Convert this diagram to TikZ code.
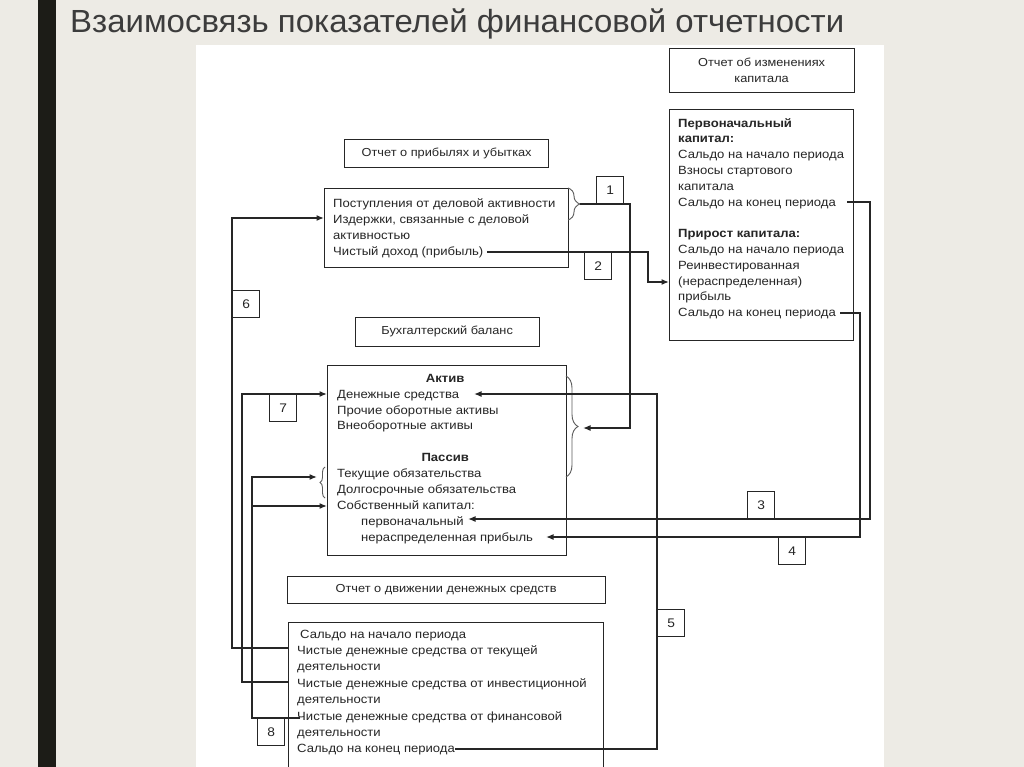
\documentclass[tikz,border=0pt]{standalone}
\usepackage{fontspec}
\usetikzlibrary{arrows.meta,positioning,decorations.pathreplacing}
\newfontfamily\diagfont[FakeStretch=1.1]{Liberation Sans}
\newfontfamily\titlefont[FakeStretch=1.03]{Liberation Sans}
\definecolor{SlideBeige}{HTML}{EDEBE5}
\definecolor{SlideBar}{HTML}{1C1C17}
\definecolor{TitleGray}{HTML}{3C3C3C}
\definecolor{InkGray}{HTML}{262626}

\begin{document}
\begin{tikzpicture}[x=1pt,y=-1pt,
  every node/.style={text=InkGray},
  frame/.style={draw=InkGray,line width=1.3pt,inner sep=0pt},
  head/.style={frame,font=\diagfont\fontsize{11.6}{16}\selectfont,align=center},
  num/.style={frame,minimum width=27pt,minimum height=27pt,
              font=\diagfont\fontsize{12.5}{14}\selectfont},
  txt/.style={anchor=north west,align=left,inner sep=0pt},
  link/.style={draw=InkGray,line width=1.4pt,-{Latex[length=7.5pt,width=6pt]}},
  brc/.style={draw=InkGray!75,line width=0.9pt,decorate,decoration={brace,amplitude=#1}}
]
  % slide
  \fill[SlideBeige] (0,0) rectangle (1024,767);
  \useasboundingbox (0,0) rectangle (1024,767);
  \clip (0,0) rectangle (1024,767);
  \fill[SlideBar] (38,0) rectangle (56,767);
  \fill[white] (196,45) rectangle (884,767);
  \node[anchor=base west,inner sep=0pt,text=TitleGray,
        font=\titlefont\fontsize{32}{36}\selectfont] (title) at (70,33)
    {Взаимосвязь показателей финансовой отчетности};

  % boxes
  \node[frame,anchor=north west,minimum width=184pt,minimum height=231pt] (capbox) at (669,109) {};
  \node[head,minimum width=185pt,minimum height=44pt,above=16pt of capbox] (caphead)
    {Отчет об изменениях\\капитала};
  \node[frame,anchor=north west,minimum width=244pt,minimum height=79pt] (incbox) at (324,188) {};
  \node[head,minimum width=204pt,minimum height=28pt,above=20pt of incbox] (inchead)
    {Отчет о прибылях и убытках};
  \node[frame,anchor=north west,minimum width=239pt,minimum height=190pt] (balbox) at (327,365) {};
  \node[head,minimum width=184pt,minimum height=29pt,above=18pt of balbox] (balhead)
    {Бухгалтерский баланс};
  \node[frame,anchor=north west,minimum width=315pt,minimum height=170pt] (cashbox) at (288,622) {};
  \node[head,minimum width=318pt,minimum height=27pt,above=18pt of cashbox] (cashhead)
    {Отчет о движении денежных средств};

  % box contents
  \node[txt,font=\diagfont\fontsize{11.9}{16}\selectfont] (inctext) at (333,196.3)
    {\strut Поступления от деловой активности\\Издержки, связанные с деловой\\
     активностью\\Чистый доход (прибыль)};
  \node[txt,font=\diagfont\fontsize{11.9}{15.8}\selectfont] (captext) at (678,115.9)
    {\strut\textbf{Первоначальный}\\\textbf{капитал:}\\Сальдо на начало периода\\
     Взносы стартового\\капитала\\Сальдо на конец периода\\[15.8pt]
     \textbf{Прирост капитала:}\\Сальдо на начало периода\\Реинвестированная\\
     (нераспределенная)\\прибыль\\Сальдо на конец периода};
  \node[txt,font=\diagfont\fontsize{11.9}{15.9}\selectfont] (baltext) at (337,370.9)
    {\strut\makebox[216pt]{\textbf{Актив}}\\Денежные средства\\Прочие оборотные активы\\
     Внеоборотные активы\\[15.9pt]\makebox[216pt]{\textbf{Пассив}}\\Текущие обязательства\\
     Долгосрочные обязательства\\Собственный капитал:\\\hspace*{24pt}первоначальный\\
     \hspace*{24pt}нераспределенная прибыль};
  \node[txt,font=\diagfont\fontsize{11.9}{16.4}\selectfont] (cashtext) at (297,626.5)
    {\strut\hspace*{3pt}Сальдо на начало периода\\Чистые денежные средства от текущей\\
     деятельности\\Чистые денежные средства от инвестиционной\\деятельности\\
     Чистые денежные средства от финансовой\\деятельности\\Сальдо на конец периода};

  % braces
  \draw[brc=12pt] (568,188) -- (568,220);
  \draw[brc=12pt] (566,376) -- (566,477);
  \draw[brc=5pt] (325,498) -- (325,467);

  % line ends
  \coordinate (revenue) at (580,204);
  \coordinate (netincome) at (487,252);
  \coordinate (assets) at (583,428);
  \coordinate (capinit) at (847,202);
  \coordinate (capgrowth) at (840,313);
  \coordinate (cashline) at (474,394);
  \coordinate (initline) at (468,519);
  \coordinate (retline) at (546,537);
  \coordinate (liabline) at (317,477);
  \coordinate (cfend) at (455,749);
  \coordinate (cffin) at (300,718);

  % links
  \draw[link] (revenue) -| (630,428) -- (assets);
  \draw[link] (netincome) -| (648,282) -- (capbox.west |- 0,282);
  \draw[link] (capinit) -| (870,519) -- (initline);
  \draw[link] (capgrowth) -| (860,537) -- (retline);
  \draw[link] (cfend) -| (657,394) -- (cashline);
  \draw[link] (cashbox.west |- 0,648) -| (232,218) -- (incbox.west |- 0,218);
  \draw[link] (cashbox.west |- 0,682) -| (242,394) -- (balbox.west |- 0,394);
  \draw[link] (cffin) -| (252,477) -- (liabline);
  \draw[link] (252,506) -- (balbox.west |- 0,506);

  % numbers
  \node[num,anchor=south west] (n1) at (596,204) {1};
  \node[num,anchor=north west] (n2) at (584,252) {2};
  \node[num,anchor=south west] (n3) at (747,519) {3};
  \node[num,anchor=north west] (n4) at (778,537) {4};
  \node[num,anchor=north west] (n5) at (657,609) {5};
  \node[num,anchor=north west] (n6) at (232,290) {6};
  \node[num,anchor=north west] (n7) at (269,394) {7};
  \node[num,anchor=north west] (n8) at (257,718) {8};
\end{tikzpicture}
\end{document}
